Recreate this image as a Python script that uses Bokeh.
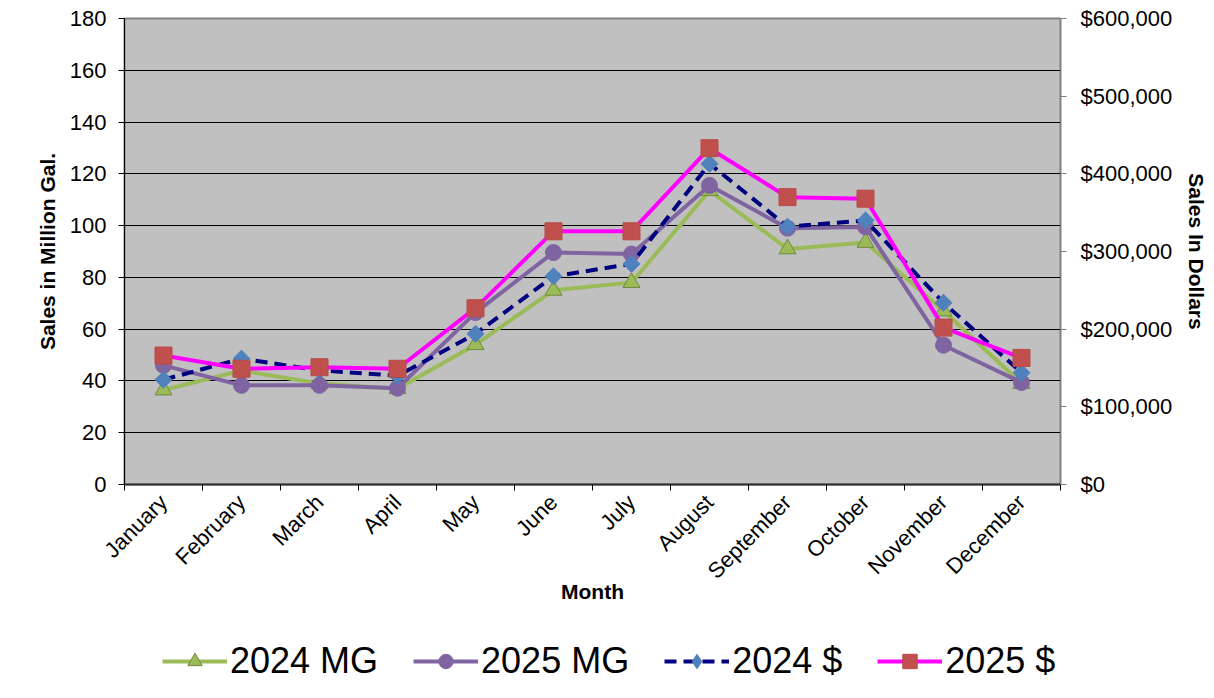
import math
from bokeh.plotting import figure
from bokeh.layouts import column
from bokeh.models import Range1d, LinearAxis, FixedTicker, NumeralTickFormatter, Legend, LegendItem
from bokeh.embed import file_html
from bokeh.resources import INLINE

months = ["January", "February", "March", "April", "May", "June", "July",
          "August", "September", "October", "November", "December"]
mg_2024 = [36.5, 44, 39, 37, 54, 75, 78, 113.5, 91, 93.5, 67, 39]
mg_2025 = [46, 38.3, 38.3, 37.2, 66.4, 89.6, 89, 115.5, 99, 99.5, 53.8, 39.4]
usd_2024 = [135000, 162000, 147000, 140000, 194000, 268000, 284000, 413000, 332000, 340000, 234000, 144000]
usd_2025 = [166000, 149000, 151000, 149000, 227000, 326000, 326000, 433000, 370000, 368000, 202000, 163000]
series_names = ["2024 MG", "2025 MG", "2024 $", "2025 $"]
left_ticks = list(range(0, 181, 20))
right_ticks = list(range(0, 600001, 100000))

FONT = "Liberation Sans"
x = list(range(len(months)))
bounds = [i - 0.5 for i in range(len(months) + 1)]

W = 1214
H_MAIN = 625
H_LEG = 73

p = figure(width=W, height=H_MAIN, output_backend="svg", toolbar_location=None,
           x_range=Range1d(-0.5, len(months) - 0.5), y_range=Range1d(0, 180),
           min_border_left=124, min_border_right=154, min_border_top=18,
           min_border_bottom=H_MAIN - 484)
p.extra_y_ranges = {"usd": Range1d(0, 600000)}

p.background_fill_color = "#C0C0C0"
p.border_fill_color = "white"
p.outline_line_color = "#808080"
p.outline_line_width = 2
p.xgrid.visible = False
p.ygrid.grid_line_color = "#000000"
p.ygrid.grid_line_width = 1

# x axis
xa = p.xaxis[0]
xa.ticker = FixedTicker(ticks=x, minor_ticks=bounds)
xa.major_label_overrides = {i: m for i, m in zip(x, months)}
xa.major_label_orientation = math.pi / 4
xa.major_tick_out = 0
xa.major_tick_in = 0
xa.minor_tick_out = 6
xa.minor_tick_in = 0
xa.minor_tick_line_color = "#000000"
xa.axis_line_color = "#303030"
xa.axis_line_width = 2
xa.major_label_standoff = 8
xa.axis_label = "Month"
xa.axis_label_standoff = -15

# left axis
ya = p.yaxis[0]
ya.ticker = FixedTicker(ticks=left_ticks)
ya.major_tick_out = 6
ya.major_tick_in = 0
ya.minor_tick_out = 0
ya.minor_tick_in = 0
ya.axis_line_color = "#000000"
ya.major_label_standoff = 12
ya.axis_label = "Sales in Million Gal."
ya.axis_label_standoff = 8

# right axis
ra = LinearAxis(y_range_name="usd", ticker=FixedTicker(ticks=right_ticks),
                formatter=NumeralTickFormatter(format="$0,0"))
ra.major_tick_out = 6
ra.major_tick_in = 0
ra.minor_tick_out = 0
ra.minor_tick_in = 0
ra.axis_line_color = "#808080"
ra.major_tick_line_color = "#808080"
ra.major_label_standoff = 14
ra.axis_label = "Sales In Dollars"
ra.axis_label_standoff = 10
p.add_layout(ra, "right")

for ax in [xa, ya, ra]:
    ax.major_label_text_font = FONT
    ax.major_label_text_font_size = "22px"
    ax.major_label_text_color = "#000000"
    ax.axis_label_text_font = FONT
    ax.axis_label_text_font_size = "21px"
    ax.axis_label_text_font_style = "bold"
    ax.axis_label_text_color = "#000000"


def draw(fig, diamond_marker):
    r = []
    r.append(fig.line(x, mg_2024, line_color="#9BBB59", line_width=4))
    r.append(fig.scatter(x, mg_2024, marker="triangle", size=17, fill_color="#9BBB59",
                         line_color="#71893F", line_width=1))
    r.append(fig.line(x, mg_2025, line_color="#8064A2", line_width=4))
    r.append(fig.scatter(x, mg_2025, marker="circle", size=16, fill_color="#8064A2", line_color="#8064A2"))
    r.append(fig.line(x, usd_2024, y_range_name="usd", line_color="#000080", line_width=4, line_dash="12 7"))
    if diamond_marker:
        r.append(fig.scatter(x, usd_2024, y_range_name="usd", marker="diamond", size=20,
                             fill_color="#4F81BD", line_color="#4F81BD"))
    else:
        r.append(fig.scatter(x, usd_2024, y_range_name="usd", marker="square", size=12, angle=math.pi / 4,
                             fill_color="#4F81BD", line_color="#4F81BD"))
    r.append(fig.line(x, usd_2025, y_range_name="usd", line_color="#FF00FF", line_width=4))
    r.append(fig.scatter(x, usd_2025, y_range_name="usd", marker="square", size=17,
                         fill_color="#C0504D", line_color="#B84B47"))
    return r


draw(p, False)

# legend strip (its renderers sit outside its visible ranges; only the legend shows)
q = figure(width=W, height=H_LEG, output_backend="svg", toolbar_location=None,
           x_range=Range1d(1000, 1001), y_range=Range1d(1000, 1001),
           min_border_left=0, min_border_right=0, min_border_top=0, min_border_bottom=0)
q.extra_y_ranges = {"usd": Range1d(1e9, 1e9 + 1)}
q.axis.visible = False
q.grid.visible = False
q.outline_line_color = None
q.background_fill_color = "white"
q.border_fill_color = "white"
rq = draw(q, True)

legend = Legend(items=[
    LegendItem(label=series_names[k], renderers=[rq[2 * k], rq[2 * k + 1]]) for k in range(4)
], orientation="horizontal", location=(38, 16))
legend.label_text_font = FONT
legend.label_text_font_size = "36px"
legend.label_text_color = "#000000"
legend.glyph_width = 65
legend.glyph_height = 36
legend.label_standoff = 3
legend.spacing = 35
legend.padding = 0
legend.margin = 0
legend.background_fill_alpha = 0
legend.border_line_alpha = 0
q.add_layout(legend, "center")

layout = column(p, q, spacing=0)
open("out.html", "w").write(file_html(layout, INLINE))
